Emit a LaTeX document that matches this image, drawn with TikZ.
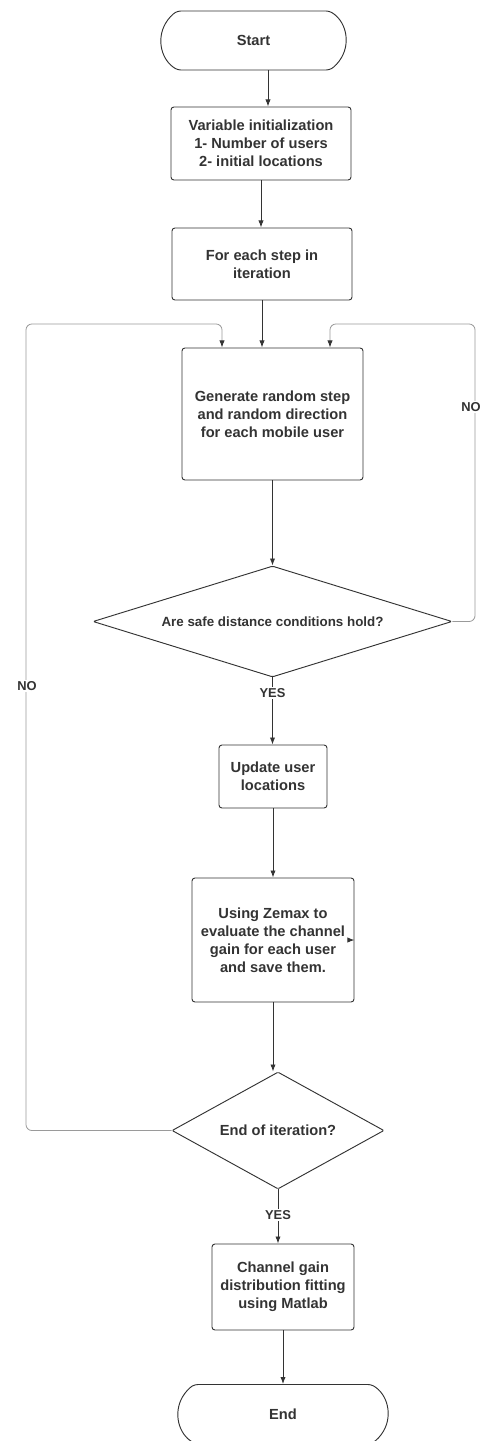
\documentclass[tikz,border=0pt]{standalone}
\usepackage{fontspec}
\setmainfont{Liberation Sans}
\usetikzlibrary{shapes.geometric, shapes.misc, arrows.meta, calc}

\begin{document}
\begin{tikzpicture}[x=0.03cm, y=-0.03cm,
    flow/.style={draw=lineColour, line width=0.8pt, -{Latex[length=6pt,width=4.5pt]}},
    back/.style={draw=loopColour, line width=0.7pt, rounded corners=5pt,
        -{Latex[length=6pt,width=4.5pt,color=lineColour]}},
    box/.style={draw=lineColour, line width=0.8pt, rounded corners=2.5pt, align=center,
        text=textColour, font=\bfseries\fontsize{12.5}{15.3}\selectfont},
    term/.style={box, rounded rectangle, rounded rectangle arc length=120, minimum height=1.77cm},
    decision/.style={box, diamond, inner sep=0pt, rounded corners=1pt},
    lbl/.style={text=textColour, fill=white, inner sep=1pt, font=\bfseries\fontsize{11}{13}\selectfont}]
    \definecolor{lineColour}{HTML}{333333}
    \definecolor{loopColour}{HTML}{9A9A9A}
    \definecolor{textColour}{HTML}{333333}

    \useasboundingbox (0,0) rectangle (487,1441);

    % Nodes
    \node[term, minimum width=5.79cm] (start) at (253.5,40.5) {Start};
    \node[box, minimum width=5.4cm, minimum height=2.19cm] (init) at (261,143.5)
        {Variable initialization\\1- Number of users\\2- initial locations};
    \node[box, minimum width=5.4cm, minimum height=2.16cm] (iter) at (262,264)
        {For each step in\\iteration};
    \node[box, minimum width=5.43cm, minimum height=3.96cm] (gen) at (272.5,414)
        {Generate random step\\and random direction\\for each mobile user};
    \node[decision, aspect=3.23, minimum width=10.77cm, minimum height=3.33cm,
        font=\bfseries\fontsize{11.4}{14}\selectfont] (safe) at (272.5,621.5)
        {Are safe distance conditions hold?};
    \node[box, minimum width=3.24cm, minimum height=1.89cm] (update) at (273,776.5)
        {Update user\\locations};
    \node[box, minimum width=4.86cm, minimum height=3.72cm] (zemax) at (273,940)
        {Using Zemax to\\evaluate the channel\\gain for each user\\and save them.};
    \node[decision, aspect=1.81, minimum width=6.36cm, minimum height=3.51cm] (endit) at (278,1130.5)
        {End of iteration?};
    \node[box, minimum width=4.26cm, minimum height=2.58cm] (fit) at (283,1287)
        {Channel gain\\distribution fitting\\using Matlab};
    \node[term, minimum width=6.54cm] (stop) at (283,1414) {End};

    % Main flow
    \coordinate (s1) at ($(start.south)+(14.5,0)$);
    \draw[flow] (s1) -- (s1 |- init.north);
    \draw[flow] (init.south) -- (init.south |- iter.north);
    \draw[flow] (iter.south) -- (iter.south |- gen.north);
    \draw[flow] (gen.south) -- (safe.north);
    \draw[flow] (safe.south) -- (safe.south |- update.north);
    \draw[flow] (update.south) -- (zemax.north);
    \draw[flow] (zemax.south) -- (zemax.south |- endit.north);
    \draw[flow] (endit.south) -- (endit.south |- fit.north);
    \draw[flow] (fit.south) -- (stop.north);
    \draw[flow] ($(zemax.east)+(-5,0)$) -- (zemax.east);

    % Loops back
    \coordinate (rtop) at (475,324);
    \coordinate (ltop) at (26,324);
    \coordinate (gr) at ($(gen.north)+(57.5,0)$);
    \coordinate (gl) at ($(gen.north)+(-50.5,0)$);
    \draw[back] (safe.east) -| (rtop) -| (gr);
    \draw[back] (endit.west) -| (ltop) -| (gl);

    % Labels
    \node[lbl] (no1) at (471,407) {NO};
    \node[lbl] (no2) at (27,686) {NO};
    \node[lbl] (yes1) at (272.5,693) {YES};
    \node[lbl] (yes2) at (278,1215) {YES};
\end{tikzpicture}
\end{document}
